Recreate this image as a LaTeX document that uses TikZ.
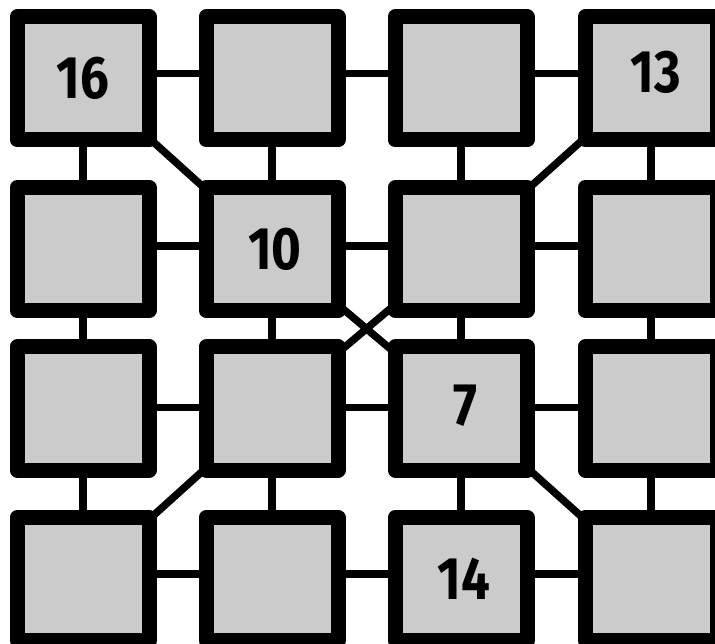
\documentclass[tikz,border=0pt]{standalone}
\usepackage{fontspec}
\newfontfamily\digitfont{Fira Sans}[FakeStretch=0.85]
\usetikzlibrary{backgrounds}
\definecolor{cellGray}{HTML}{CBCBCB}

\begin{document}
\begin{tikzpicture}[
  x=1pt,y=-1pt,
  cell/.style={rectangle, draw=black, fill=cellGray, line width=15pt,
               line join=round, minimum width=132pt, minimum height=123pt,
               inner sep=0pt},
  digit/.style={inner sep=0pt, text=black,
                font=\digitfont\bfseries\fontsize{60}{60}\selectfont},
  link/.style={draw=black, line width=7.5pt},
]
  \path[use as bounding box] (0,0) rectangle (715,644);

  % Grid of cells, four rows by four columns.
  \foreach \r/\y in {1/78.5,2/249,3/408.5,4/579} {
    \foreach \c/\x in {1/83,2/272,3/461,4/651} {
      \node[cell] (c\r\c) at (\x,\y) {};
    }
  }

  % Numbered cells.
  \node[digit] (n16) at (c11) {16};
  \node[digit] (n13) at ([xshift=5pt,yshift=6pt]c14.center) {13};
  \node[digit] (n10) at ([xshift=3pt]c22.center) {10};
  \node[digit] (n7)  at ([xshift=4pt,yshift=3pt]c33.center) {7};
  \node[digit] (n14) at ([xshift=3pt]c43.center) {14};

  \begin{scope}[on background layer]
    % Row links.
    \foreach \r/\dy in {1/5,2/3,3/1,4/5} {
      \foreach \a/\b in {1/2,2/3,3/4} {
        \draw[link] ([yshift=\dy pt]c\r\a.east) -- ([yshift=\dy pt]c\r\b.west);
      }
    }
    % Column links.
    \foreach \c in {1,...,4} {
      \foreach \a/\b in {1/2,2/3,3/4} {
        \draw[link] (c\a\c.south) -- (c\b\c.north);
      }
    }
    % Diagonal links, centre to centre.
    \draw[link] (c11.center) -- (c22.center);
    \draw[link] (c14.center) -- (c23.center);
    \draw[link] (c22.center) -- (c33.center);
    \draw[link] (c23.center) -- (c32.center);
    \draw[link] (c32.center) -- (c41.center);
    \draw[link] (c33.center) -- (c44.center);
  \end{scope}
\end{tikzpicture}
\end{document}
